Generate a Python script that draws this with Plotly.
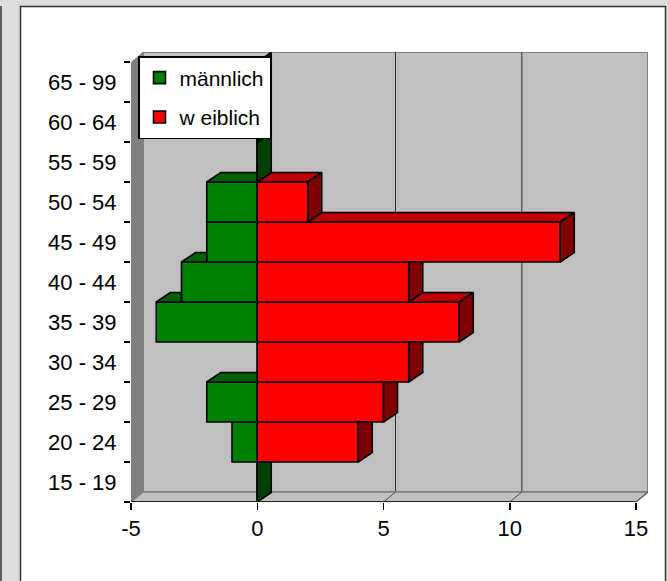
import plotly.graph_objects as go

# ---------------- data ----------------
CATEGORIES = ["15 - 19", "20 - 24", "25 - 29", "30 - 34", "35 - 39", "40 - 44",
              "45 - 49", "50 - 54", "55 - 59", "60 - 64", "65 - 99"]
MALE = [0, -1, -2, 0, -4, -3, -2, -2, 0, 0, 0]
FEMALE = [0, 4, 5, 6, 8, 6, 12, 2, 0, 0, 0]
SERIES_NAMES = ["männlich", "w eiblich"]
X_TICKS = [-5, 0, 5, 10, 15]
X_TICK_LABELS = ["-5", "0", "5", "10", "15"]

# ---------------- styling / geometry ----------------
W, H = 668, 581
ML, MR, MT, MB = 131, 20, 52, 79
PW, PH = W - ML - MR, H - MT - MB
FONT = "Liberation Sans, Arial, sans-serif"
FS = 22

N = len(CATEGORIES)
ypos = list(range(N))
X_LO, X_HI = X_TICKS[0], X_TICKS[-1]

WALL_DX_PX, WALL_DY_PX = 12, 10
BAR_DX_PX, BAR_DY_PX = 14, 9.5
ppx = (PW - WALL_DX_PX) / (X_HI - X_LO)
ppy = (PH - WALL_DY_PX) / N
wdx, wdy = WALL_DX_PX / ppx, WALL_DY_PX / ppy
bdx, bdy = BAR_DX_PX / ppx, BAR_DY_PX / ppy

G_FRONT, G_TOP, G_SIDE = "#008000", "#006000", "#004000"
R_FRONT, R_TOP, R_SIDE = "#ff0000", "#c00000", "#800000"
WALL, WALL_DARK = "#c0c0c0", "#808080"

fig = go.Figure()

# front faces (real bars)
fig.add_trace(go.Bar(y=ypos, x=MALE, base=0, orientation="h", width=1,
                     name=SERIES_NAMES[0], legendgroup="m",
                     marker=dict(color=G_FRONT, line=dict(color="black", width=1.6))))
fig.add_trace(go.Bar(y=ypos, x=FEMALE, base=0, orientation="h", width=1,
                     name=SERIES_NAMES[1], legendgroup="f",
                     marker=dict(color=R_FRONT, line=dict(color="black", width=1.6))))


def face(pts, color):
    xs = [p[0] for p in pts] + [pts[0][0]]
    ys = [p[1] for p in pts] + [pts[0][1]]
    fig.add_trace(go.Scatter(x=xs, y=ys, mode="lines", fill="toself",
                             fillcolor=color, line=dict(color="black", width=1.6),
                             showlegend=False, hoverinfo="skip"))


# 3-D faces, painted bottom row to top row
for c in range(N):
    m, f = MALE[c], FEMALE[c]
    has_next = c + 1 < N
    nm = MALE[c + 1] if has_next else 0
    nf = FEMALE[c + 1] if has_next else 0
    top, bot = c + 0.5, c - 0.5
    # male top face
    if m < 0:
        if has_next:
            if m < nm:
                face([(m, top), (nm, top), (nm, top + bdy), (m + bdx, top + bdy)], G_TOP)
        else:
            face([(m, top), (0, top), (bdx, top + bdy), (m + bdx, top + bdy)], G_TOP)
    # male side face (at the zero line)
    if f <= 0:
        if nf >= bdx:
            face([(0, bot), (bdx, bot + bdy), (bdx, top), (0, top)], G_SIDE)
        else:
            face([(0, bot), (bdx, bot + bdy), (bdx, top + bdy), (0, top)], G_SIDE)
    # female top face
    if f > 0:
        xl = max(nf, 0) if has_next else 0
        if f > xl:
            face([(xl, top), (f, top), (f + bdx, top + bdy), (xl + bdx, top + bdy)], R_TOP)
        # female side face
        if nf >= f + bdx:
            face([(f, bot), (f + bdx, bot + bdy), (f + bdx, top), (f, top)], R_SIDE)
        else:
            face([(f, bot), (f + bdx, bot + bdy), (f + bdx, top + bdy), (f, top)], R_SIDE)


def px2paper_x(px):
    return (px - ML) / PW


def px2paper_y(py):
    return 1 - (py - MT) / PH


shapes = []
# chart frame
shapes.append(dict(type="rect", xref="paper", yref="paper", layer="below",
                   x0=px2paper_x(20.5), x1=px2paper_x(665.5),
                   y0=px2paper_y(590), y1=px2paper_y(6.5),
                   fillcolor="white", line=dict(color="#333333", width=1.5)))
shapes.append(dict(type="line", xref="paper", yref="paper", layer="below",
                   x0=px2paper_x(1), x1=px2paper_x(1),
                   y0=px2paper_y(6), y1=px2paper_y(590),
                   line=dict(color="#333333", width=1.5)))
yb, yt = -0.5, N - 0.5
# back wall
shapes.append(dict(type="rect", xref="x", yref="y", layer="below",
                   x0=X_LO + wdx, x1=X_HI + wdx, y0=yb + wdy, y1=yt + wdy,
                   fillcolor=WALL, line=dict(color=WALL_DARK, width=2)))
# gridlines on back wall
for xv in X_TICKS[1:-1]:
    shapes.append(dict(type="line", xref="x", yref="y", layer="below",
                       x0=xv + wdx, x1=xv + wdx, y0=yb + wdy, y1=yt + wdy,
                       line=dict(color="#303030" if xv == 5 else "#606060",
                                 width=1 if xv == 5 else 1.5)))
# left wall
shapes.append(dict(type="path", xref="x", yref="y", layer="below",
                   path=f"M{X_LO},{yb} L{X_LO + wdx},{yb + wdy} L{X_LO + wdx},{yt + wdy} L{X_LO},{yt} Z",
                   fillcolor=WALL_DARK, line=dict(width=0)))
# floor
shapes.append(dict(type="path", xref="x", yref="y", layer="below",
                   path=f"M{X_LO},{yb} L{X_HI},{yb} L{X_HI + wdx},{yb + wdy} L{X_LO + wdx},{yb + wdy} Z",
                   fillcolor=WALL, line=dict(color=WALL_DARK, width=1.5)))
for xv in X_TICKS[1:]:
    shapes.append(dict(type="line", xref="x", yref="y", layer="below",
                       x0=xv, x1=xv + wdx, y0=yb, y1=yb + wdy,
                       line=dict(color="#505050", width=1)))
# value axis line (front edge of floor)
shapes.append(dict(type="line", xref="x", yref="y", layer="below",
                   x0=X_LO, x1=X_HI, y0=yb, y1=yb,
                   line=dict(color="black", width=1.5)))

fig.update_layout(
    width=W, height=H,
    margin=dict(l=ML, r=MR, t=MT, b=MB, pad=0),
    paper_bgcolor="#dddddd", plot_bgcolor="white",
    barmode="overlay", bargap=0,
    font=dict(family=FONT, size=FS, color="black"),
    hovermode=False,
    shapes=shapes,
    showlegend=True,
    legend=dict(x=px2paper_x(138), y=px2paper_y(56), xanchor="left", yanchor="top",
                bgcolor="white", bordercolor="black", borderwidth=1.5,
                font=dict(family=FONT, size=21, color="black"),
                traceorder="grouped", tracegroupgap=9),
    xaxis=dict(range=[X_LO, X_HI + wdx], tickmode="array", tickvals=X_TICKS,
               ticktext=X_TICK_LABELS, ticks="outside", ticklen=7, tickwidth=1.5,
               tickcolor="black", showgrid=False, zeroline=False, showline=False,
               tickfont=dict(family=FONT, size=FS, color="black")),
    yaxis=dict(range=[yb, yt + wdy], tickmode="array", tickvals=ypos,
               ticktext=CATEGORIES, ticks="outside", ticklen=9,
               tickcolor="rgba(0,0,0,0)", showgrid=False, zeroline=False,
               showline=False,
               minor=dict(tickmode="array", tickvals=[i - 0.5 for i in range(N + 1)],
                          ticks="outside", ticklen=6, tickwidth=1.5, tickcolor="black",
                          showgrid=False),
               tickfont=dict(family=FONT, size=FS, color="black")),
)

fig.write_html("out.html", config={"displayModeBar": False, "staticPlot": True},
               post_script="document.body.style.margin='0';document.body.style.overflow='hidden';")
